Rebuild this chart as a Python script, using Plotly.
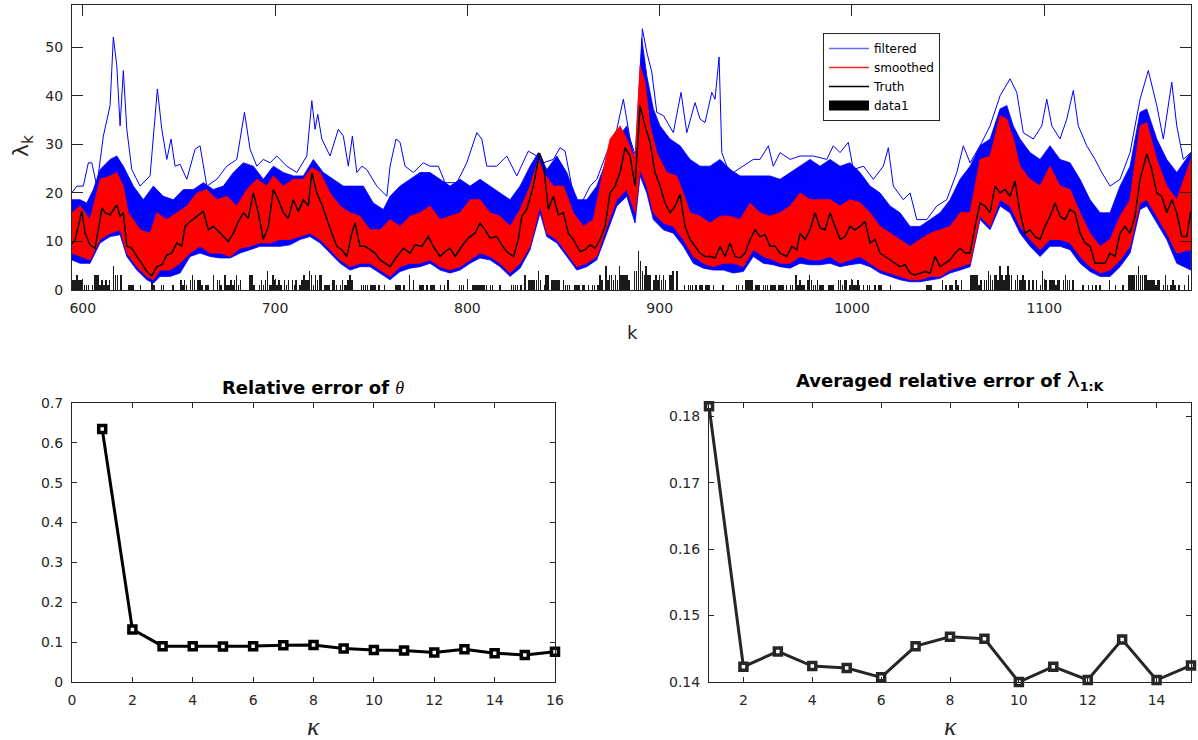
import plotly.graph_objects as go

# ---------------- data ----------------
# Truth intensity lambda_k : (k, value)
truth = [(594.3, 9.5), (596.0, 10.3), (599.5, 16.2), (601.2, 11.7), (603.8, 9.3), (606.4, 8.6), (609.0, 14.5),
         (609.9, 16.9), (611.6, 15.9), (614.2, 15.5), (617.7, 17.5), (619.4, 15.2), (621.1, 15.9), (622.9, 9.0),
         (625.5, 8.6), (628.1, 6.9), (630.7, 5.5), (633.3, 3.8), (635.9, 2.9), (638.5, 4.8), (641.1, 5.2),
         (643.7, 7.2), (646.3, 7.6), (648.9, 9.7), (651.5, 9.0), (653.2, 13.1), (655.8, 14.1), (659.3, 15.2),
         (662.7, 16.2), (665.3, 12.4), (667.9, 13.1), (670.5, 12.1), (673.1, 11.0), (675.7, 10.0), (678.3, 11.7),
         (680.9, 14.1), (683.5, 15.9), (686.1, 14.8), (688.7, 20.0), (691.3, 15.9), (693.9, 10.4), (696.5, 13.1),
         (699.1, 20.7), (701.7, 18.6), (704.3, 15.9), (706.9, 14.8), (709.5, 18.6), (712.1, 16.2), (714.7, 18.6),
         (717.3, 17.3), (719.1, 24.2), (721.7, 20.0), (724.3, 17.6), (726.9, 14.5), (729.5, 11.7), (732.1, 9.0),
         (734.7, 8.3), (737.3, 6.9), (739.9, 11.7), (741.6, 13.8), (744.2, 9.0), (746.8, 9.0), (749.4, 8.3),
         (752.0, 7.6), (754.6, 6.2), (757.2, 5.5),
         (759.8, 4.8), (763.3, 6.9), (766.7, 8.6), (770.2, 7.6), (772.8, 9.3), (776.3, 9.0), (779.7, 11.0),
         (782.3, 9.0), (785.8, 6.9), (788.4, 7.9), (791.0, 8.6), (793.6, 6.9), (797.1, 9.0), (800.5, 10.7),
         (804.0, 11.7), (806.6, 13.8), (809.2, 12.4), (811.8, 10.7), (815.3, 11.0), (817.9, 9.3), (820.5, 7.9),
         (824.0, 6.9), (826.5, 10.4), (828.3, 15.2), (830.9, 16.6), (834.3, 21.4), (837.5, 28.2), (839.5, 26.2),
         (842.1, 16.6), (844.7, 19.3), (847.3, 15.5), (849.9, 15.9), (852.5, 11.7), (855.1, 10.4), (858.6, 7.9),
         (861.2, 8.3), (863.8, 9.3), (866.4, 8.6), (869.0, 10.4), (871.6, 13.1), (874.2, 20.0), (876.8, 21.4),
         (879.4, 24.2), (882.0, 29.3), (884.6, 27.6), (887.2, 21.4), (889.8, 38.0), (892.4, 33.8), (895.0, 30.4),
         (897.6, 24.2), (900.2, 21.4), (902.8, 17.9), (905.4, 15.9), (908.0, 17.3), (910.6, 19.7), (913.2, 13.1),
         (915.8, 10.4), (918.4, 9.0), (921.0, 7.6), (923.6, 6.9), (926.2, 6.9), (928.8, 6.6), (931.4, 9.0),
         (934.0, 6.9), (936.6, 9.7), (939.2, 6.9), (941.8, 6.6), (944.4, 7.6), (947.0, 10.4), (949.6, 12.4),
         (952.2, 11.0), (954.8, 11.4), (957.4, 9.0), (960.0, 9.0),
         (962.6, 7.6), (966.1, 6.9), (968.7, 9.0), (971.3, 8.3), (973.0, 11.7), (975.6, 10.4), (978.2, 12.4),
         (980.8, 15.9), (983.4, 12.8), (986.0, 12.4), (988.6, 15.9), (991.2, 13.1), (993.8, 10.4), (996.4, 11.0),
         (999.0, 13.1), (1001.6, 12.4), (1004.2, 13.1), (1006.8, 14.1), (1009.4, 9.7), (1012.0, 10.4),
         (1014.6, 7.6), (1017.2, 6.9), (1019.8, 6.2), (1022.4, 5.5), (1025.0, 4.8), (1027.6, 5.2), (1030.2, 3.5),
         (1032.8, 3.1), (1035.4, 3.5), (1038.0, 3.8), (1040.6, 3.5), (1043.2, 6.9), (1045.8, 4.8), (1048.4, 5.5),
         (1051.0, 6.2), (1053.6, 7.6), (1056.2, 8.6), (1058.8, 7.6), (1061.4, 7.6), (1064.0, 13.1), (1066.6, 17.9),
         (1069.2, 17.3), (1071.8, 15.9), (1074.4, 21.4), (1077.0, 20.0), (1079.6, 20.7), (1082.2, 19.3),
         (1084.8, 22.4), (1087.4, 15.9), (1090.0, 11.7), (1092.6, 12.4), (1095.2, 11.0), (1097.8, 10.4),
         (1100.4, 13.1), (1103.0, 15.2), (1105.6, 17.9), (1108.2, 15.2), (1110.8, 14.5), (1113.4, 16.6),
         (1116.0, 15.9), (1118.6, 11.7), (1121.2, 9.7), (1123.8, 9.0), (1126.4, 5.5), (1129.0, 5.5), (1131.6, 5.5),
         (1134.2, 7.6), (1136.8, 6.9), (1139.4, 11.7), (1142.0, 13.1), (1144.6, 11.7), (1147.2, 15.2),
         (1149.8, 22.8), (1153.3, 28.0), (1155.9, 24.8), (1158.5, 20.0), (1161.1, 19.3), (1163.7, 15.9),
         (1166.3, 18.6), (1168.9, 15.9), (1171.5, 11.0), (1174.1, 11.0), (1176.2, 16.2)]

# Smoothed ensemble (red): upper and lower envelope
smoothed_upper = [(594.3, 15.9), (598.6, 17.3), (603.8, 14.5), (609.0, 22.8), (614.2, 23.5), (617.7, 24.2),
                  (621.1, 21.4), (623.7, 15.9), (629.8, 12.4), (635.0, 11.7), (638.5, 15.9), (643.7, 14.5),
                  (648.9, 15.9), (654.1, 17.3), (659.3, 20.0), (664.5, 20.7), (669.7, 18.6), (674.9, 19.3),
                  (680.1, 17.3), (685.3, 20.7), (690.5, 22.8), (695.7, 21.4), (699.1, 23.5), (704.3, 21.4),
                  (709.5, 22.8), (714.7, 22.8), (719.1, 25.2), (723.4, 24.2), (728.6, 20.0), (733.8, 17.3),
                  (739.0, 15.9), (744.2, 15.2), (749.4, 12.4), (754.6, 12.4),
                  (759.8, 14.5), (765.0, 13.1), (770.2, 15.2), (775.4, 15.9), (780.6, 17.3), (785.8, 14.5),
                  (791.0, 15.2), (796.2, 15.9), (801.4, 18.6), (806.6, 18.6), (811.8, 15.9), (817.0, 15.2),
                  (822.2, 13.1), (827.4, 16.6), (832.6, 21.4), (836.9, 26.9), (839.5, 24.2), (844.7, 21.4),
                  (849.9, 21.4), (855.1, 15.9), (860.3, 13.1), (865.5, 14.5), (870.7, 24.8), (874.2, 31.1),
                  (879.4, 33.8), (882.9, 31.1), (887.2, 26.9), (889.8, 46.2), (892.4, 42.8), (895.0, 33.8),
                  (898.5, 28.3), (903.7, 24.2), (908.9, 23.5), (912.3, 20.0), (915.8, 15.9), (921.0, 15.2),
                  (926.2, 13.8), (931.4, 15.2), (936.6, 15.2), (941.8, 14.5), (947.0, 17.9), (952.2, 15.9),
                  (957.4, 15.2),
                  (962.6, 15.9), (967.8, 17.3), (973.0, 20.0), (978.2, 18.6), (983.4, 18.6), (988.6, 18.6),
                  (993.8, 17.3), (999.0, 18.6), (1004.2, 18.0), (1009.4, 15.9), (1014.6, 13.1), (1019.8, 11.7),
                  (1025.0, 10.4), (1030.2, 9.0), (1035.4, 10.4), (1040.6, 11.7), (1045.8, 12.4), (1051.0, 13.1),
                  (1056.2, 15.9), (1061.4, 16.0), (1066.6, 26.9), (1071.8, 27.6), (1077.0, 35.9), (1080.5, 35.2),
                  (1083.9, 31.1), (1087.4, 25.5), (1092.6, 22.8), (1097.8, 21.4), (1103.0, 25.5), (1108.2, 21.4),
                  (1113.4, 20.7), (1118.6, 15.9), (1123.8, 11.7), (1129.0, 9.0), (1134.2, 10.4), (1139.4, 15.2),
                  (1144.6, 18.6), (1149.8, 33.8), (1153.3, 34.5), (1158.5, 26.9), (1163.7, 21.4), (1168.9, 18.6),
                  (1176.2, 26.9)]
smoothed_lower = [(594.3, 7.6), (598.6, 6.9), (603.8, 6.2), (609.0, 10.4), (614.2, 11.7), (619.4, 12.4),
                  (622.9, 7.6), (628.1, 4.8), (633.3, 2.8), (636.7, 2.1), (640.2, 4.1), (645.4, 4.1), (650.6, 5.5),
                  (655.8, 7.6), (661.0, 9.0), (666.2, 7.6), (671.4, 7.6), (676.6, 6.9), (681.8, 8.6), (687.0, 9.0),
                  (692.2, 9.7), (697.4, 9.7), (702.6, 10.4), (707.8, 10.4), (713.0, 11.0), (718.2, 11.7),
                  (723.4, 10.4), (728.6, 8.3), (733.8, 6.2), (739.0, 4.8), (744.2, 5.5), (749.4, 5.5), (754.6, 4.1),
                  (759.8, 2.8), (765.0, 4.8), (770.2, 5.5), (775.4, 5.5), (780.6, 6.2), (785.8, 4.8), (791.0, 4.1),
                  (796.2, 4.8), (801.4, 6.2), (806.6, 7.6), (811.8, 6.9), (817.0, 5.5), (822.2, 3.5), (827.4, 5.5),
                  (832.6, 9.0), (837.8, 17.3), (841.3, 11.7), (846.5, 10.4), (851.7, 7.6), (856.9, 4.8),
                  (862.1, 5.5), (867.3, 6.9), (872.5, 13.1), (877.7, 18.6), (882.9, 20.7), (887.2, 15.9),
                  (889.8, 24.8), (893.3, 21.4), (896.7, 15.9), (901.9, 13.8), (907.1, 13.1), (912.3, 10.4),
                  (917.5, 6.9), (922.7, 5.5), (927.9, 4.8), (933.1, 5.5), (938.3, 5.5), (943.5, 4.8), (948.7, 8.3),
                  (953.9, 6.9), (959.1, 6.2),
                  (962.6, 5.5), (967.8, 5.5), (973.0, 6.9), (978.2, 6.2), (983.4, 6.2), (988.6, 6.9), (993.8, 5.5),
                  (999.0, 6.2), (1004.2, 6.9), (1009.4, 5.5), (1014.6, 4.1), (1019.8, 3.5), (1025.0, 2.8),
                  (1030.2, 2.1), (1035.4, 2.1), (1040.6, 2.8), (1045.8, 2.8), (1051.0, 4.1), (1056.2, 4.8),
                  (1061.4, 5.5), (1066.6, 15.2), (1071.8, 13.1), (1077.0, 18.6), (1082.2, 17.3), (1087.4, 13.1),
                  (1092.6, 10.4), (1097.8, 8.3), (1103.0, 10.4), (1108.2, 10.4), (1113.4, 9.7), (1118.6, 6.9),
                  (1123.8, 4.8), (1129.0, 3.5), (1134.2, 4.1), (1139.4, 6.2), (1144.6, 9.0), (1149.8, 17.9),
                  (1153.3, 18.6), (1158.5, 15.2), (1163.7, 11.7), (1168.9, 7.6), (1176.2, 8.3)]

# Filtered ensemble (blue): dense upper edge, lower edge and the highest excursions
filtered_upper = [(594.3, 18.6), (598.6, 18.6), (602.1, 17.9), (605.5, 20.7), (609.0, 24.8), (614.2, 26.9),
                  (617.7, 27.6), (621.1, 25.5), (626.3, 21.4), (631.5, 18.6), (636.7, 21.4), (641.9, 19.3),
                  (647.1, 18.6), (652.3, 20.7), (657.5, 20.7), (662.7, 22.1), (667.9, 20.7), (673.1, 21.4),
                  (678.3, 24.2), (683.5, 26.2), (688.7, 25.5), (693.9, 22.8), (699.1, 25.5), (704.3, 24.2),
                  (709.5, 23.5), (714.7, 23.5), (719.9, 26.9), (725.1, 24.2), (730.3, 22.8), (735.5, 21.4),
                  (740.7, 21.4), (745.9, 21.4), (751.1, 17.9), (756.3, 16.6),
                  (759.8, 19.3), (765.0, 21.4), (770.2, 22.8), (775.4, 24.2), (780.6, 24.2), (785.8, 22.8),
                  (791.0, 21.4), (796.2, 22.8), (801.4, 21.4), (806.6, 22.8), (811.8, 21.4), (817.0, 20.0),
                  (822.2, 18.6), (827.4, 21.4), (832.6, 25.5), (836.9, 28.3), (841.3, 24.8), (846.5, 27.6),
                  (851.7, 24.2), (856.9, 18.6), (862.1, 18.6), (867.3, 21.4), (872.5, 26.9), (877.7, 31.1),
                  (882.9, 33.8), (887.2, 26.9), (890.7, 51.8), (893.3, 44.2), (896.7, 37.3), (900.2, 33.8),
                  (905.4, 31.1), (910.6, 29.7), (915.8, 26.9), (921.0, 25.5), (926.2, 25.5), (931.4, 26.9),
                  (936.6, 24.8), (941.8, 23.5), (947.0, 23.5), (952.2, 23.5), (957.4, 23.5),
                  (962.6, 22.8), (967.8, 24.2), (973.0, 25.5), (978.2, 26.9), (983.4, 25.5), (988.6, 26.9),
                  (993.8, 25.5), (999.0, 26.2), (1004.2, 24.2), (1009.4, 21.4), (1014.6, 20.0), (1019.8, 17.3),
                  (1025.0, 15.9), (1030.2, 13.1), (1035.4, 13.1), (1040.6, 14.5), (1045.8, 15.9), (1051.0, 18.6),
                  (1056.2, 22.8), (1061.4, 25.5), (1066.6, 29.7), (1071.8, 31.1), (1077.0, 37.3), (1080.5, 38.0),
                  (1083.9, 33.8), (1087.4, 31.1), (1092.6, 28.3), (1097.8, 26.9), (1103.0, 29.7), (1108.2, 26.9),
                  (1113.4, 26.2), (1118.6, 22.8), (1123.8, 18.6), (1129.0, 15.9), (1134.2, 15.9), (1139.4, 21.4),
                  (1144.6, 25.5), (1149.8, 36.6), (1153.3, 37.3), (1158.5, 31.1), (1163.7, 26.9), (1168.9, 24.2),
                  (1176.2, 28.3)]
filtered_lower = [(594.3, 6.2), (598.6, 5.5), (603.8, 5.5), (609.0, 9.7), (614.2, 11.0), (619.4, 11.4),
                  (622.9, 6.9), (628.1, 4.1), (633.3, 2.1), (636.7, 1.4), (640.2, 2.8), (645.4, 2.8), (650.6, 3.5),
                  (655.8, 6.9), (661.0, 7.6), (666.2, 6.9), (671.4, 6.6), (676.6, 6.6), (681.8, 7.6), (687.0, 8.3),
                  (692.2, 9.0), (697.4, 9.0), (702.6, 9.0), (707.8, 9.3), (713.0, 10.4), (718.2, 11.0),
                  (723.4, 9.7), (728.6, 7.6), (733.8, 5.5), (739.0, 4.1), (744.2, 4.8), (749.4, 4.8), (754.6, 3.5),
                  (759.8, 2.1), (765.0, 3.8), (770.2, 4.5), (775.4, 4.8), (780.6, 5.5), (785.8, 4.1), (791.0, 3.5),
                  (796.2, 4.1), (801.4, 5.5), (806.6, 6.6), (811.8, 6.2), (817.0, 4.8), (822.2, 2.8), (827.4, 4.5),
                  (832.6, 8.3), (837.8, 15.9), (841.3, 11.0), (846.5, 9.7), (851.7, 6.9), (856.9, 4.1),
                  (862.1, 4.8), (867.3, 6.2), (872.5, 11.7), (877.7, 17.3), (882.9, 19.3), (887.2, 13.8),
                  (889.8, 23.5), (893.3, 20.0), (896.7, 14.5), (901.9, 12.4), (907.1, 11.7), (912.3, 9.0),
                  (917.5, 5.5), (922.7, 4.5), (927.9, 4.1), (933.1, 4.1), (938.3, 3.5), (943.5, 3.8), (948.7, 6.9),
                  (953.9, 5.5), (959.1, 5.2),
                  (962.6, 4.8), (967.8, 4.5), (973.0, 5.5), (978.2, 5.2), (983.4, 5.2), (988.6, 5.5), (993.8, 4.8),
                  (999.0, 5.2), (1004.2, 5.5), (1009.4, 4.8), (1014.6, 3.5), (1019.8, 2.8), (1025.0, 2.1),
                  (1030.2, 1.7), (1035.4, 1.7), (1040.6, 2.1), (1045.8, 2.4), (1051.0, 3.5), (1056.2, 4.1),
                  (1061.4, 4.8), (1066.6, 14.5), (1071.8, 12.4), (1077.0, 17.3), (1082.2, 15.9), (1087.4, 11.7),
                  (1092.6, 9.0), (1097.8, 6.9), (1103.0, 9.0), (1108.2, 9.0), (1113.4, 8.3), (1118.6, 5.5),
                  (1123.8, 3.8), (1129.0, 2.8), (1134.2, 2.8), (1139.4, 4.8), (1144.6, 7.6), (1149.8, 16.6),
                  (1153.3, 17.3), (1158.5, 13.8), (1163.7, 10.4), (1168.9, 5.5), (1176.2, 4.1)]
filtered_max = [(594.3, 20.0), (596.9, 21.4), (600.3, 21.4), (602.9, 26.2), (604.7, 26.2), (607.3, 21.4),
                (610.7, 31.7), (614.2, 38.0), (615.9, 52.1), (617.7, 46.2), (619.4, 33.8), (621.1, 45.2),
                (622.9, 33.1), (625.5, 24.8), (629.8, 21.4), (635.0, 23.5), (638.8, 41.4), (641.1, 33.1),
                (643.7, 26.9), (645.9, 31.1), (648.0, 25.5), (650.6, 25.9), (654.1, 22.8), (658.4, 29.0),
                (661.0, 29.7), (664.5, 21.4), (669.7, 22.8), (674.9, 25.5), (680.1, 26.9), (684.1, 36.6),
                (687.0, 29.0), (690.5, 25.5), (693.9, 26.9), (697.4, 26.2), (700.9, 27.6), (706.1, 25.5),
                (711.3, 24.2), (716.5, 27.6), (719.1, 39.0), (720.8, 33.1), (722.2, 36.2), (724.3, 31.1),
                (728.6, 27.6), (732.9, 33.1), (735.5, 31.7), (738.1, 25.5), (740.2, 31.7), (742.5, 24.2),
                (745.1, 25.5), (747.7, 24.8), (752.9, 21.4), (758.1, 19.3),
                (759.8, 25.5), (762.9, 31.1), (765.0, 30.4), (767.6, 25.5), (771.9, 24.2), (777.1, 26.2),
                (780.6, 25.5), (784.9, 25.5), (788.4, 22.1), (794.5, 22.1), (799.7, 26.2), (804.9, 32.4),
                (807.5, 31.1), (810.1, 25.5), (815.3, 25.5), (820.5, 27.6), (825.7, 23.5), (831.7, 28.6),
                (836.1, 27.6), (839.5, 26.2), (844.7, 26.9), (848.2, 29.3), (850.8, 28.6), (854.3, 21.4),
                (858.6, 17.3), (863.8, 21.4), (867.3, 22.8), (872.5, 28.3), (877.7, 33.1), (881.1, 39.3),
                (884.6, 31.1), (888.1, 26.9), (891.0, 53.8), (893.3, 49.0), (895.9, 44.9), (898.5, 36.6),
                (902.0, 35.9), (907.1, 32.4), (911.1, 40.7), (914.1, 32.4), (918.4, 38.6), (921.0, 35.2),
                (923.6, 34.5), (927.1, 40.7), (928.8, 39.3), (930.9, 48.0), (932.3, 28.3), (934.9, 25.5),
                (938.3, 24.2), (943.5, 25.5), (948.7, 26.9), (952.2, 26.9), (956.5, 29.7), (959.1, 25.5),
                (962.6, 28.3), (967.8, 26.9), (973.0, 27.6), (979.9, 27.6), (986.9, 26.9), (990.3, 29.7),
                (993.8, 28.3), (998.1, 30.4), (1000.7, 24.8), (1006.0, 25.5), (1011.1, 22.8), (1016.3, 25.5),
                (1018.9, 29.3), (1021.5, 21.4), (1026.7, 18.6), (1030.2, 20.0), (1033.7, 14.5), (1038.9, 14.5),
                (1044.1, 17.3), (1049.3, 18.6), (1054.5, 24.2), (1057.9, 29.7), (1061.4, 26.2), (1066.6, 29.7),
                (1071.8, 33.8), (1077.0, 40.0), (1082.2, 43.5), (1085.7, 40.7), (1089.1, 32.4), (1094.3, 31.1),
                (1098.7, 33.8), (1101.3, 39.3), (1103.9, 33.8), (1108.2, 31.1), (1111.7, 35.2), (1115.1, 41.1),
                (1117.7, 33.8), (1122.1, 29.7), (1126.4, 26.9), (1129.9, 24.2), (1134.2, 21.4), (1139.4, 22.8),
                (1144.6, 28.3), (1149.8, 39.3), (1154.1, 45.2), (1158.5, 38.0), (1161.9, 31.1), (1166.3, 42.8),
                (1168.9, 33.8), (1172.3, 26.9), (1176.2, 28.3)]

# Observed counts (data1), one per k starting at k = 595
data1_start = 595
data1_digits = ("22322"
                "0111013331" "2121205330" "3000111000" "1000002100" "0110000100" "0212102320"
                "2210110030" "2210311212" "3120000331" "0012124113" "2121021202" "1201232243"
                "1323301110" "2210121123" "2000011110" "1110100100" "0001110100" "3020011101"
                "0111001010" "2000001110" "2001111111" "1011000100" "0001111010" "3022222420"
                "1330222220" "2111001110" "1101011013" "2052332325" "3333200448" "6435330232"
                "3232033404" "0001011101" "0110111010" "0001000000" "1101022220" "1110111011"
                "1011101011" "0312110232" "1121110011" "1002212201" "2112101011" "0010110000"
                "1000000000" "0000000001" "1100000201" "0110210200" "0033331202" "2432332532"
                "3533023223" "2020202014" "2202221220" "2322020000" "1001010101" "0000200100"
                "0100333335" "3333222212" "2013101210" "1001030")
data1_counts = [int(c) for c in data1_digits]
data1_k = [data1_start + i for i in range(len(data1_counts))]

# Bottom panels
kappa_theta = list(range(1, 17))
rel_err_theta = [0.635, 0.132, 0.090, 0.090, 0.089, 0.090, 0.092, 0.093,
                 0.084, 0.080, 0.079, 0.074, 0.082, 0.072, 0.068, 0.076]
kappa_lambda = list(range(1, 16))
rel_err_lambda = [0.1815, 0.1423, 0.1446, 0.1424, 0.1421, 0.1407, 0.1454, 0.1468,
                  0.1465, 0.1400, 0.1423, 0.1403, 0.1464, 0.1403, 0.1425]

top_xticks = [600, 700, 800, 900, 1000, 1100]
top_yticks = [0, 10, 20, 30, 40, 50]

# ---------------- figure ----------------
W, H = 1198, 740
FONT = "DejaVu Sans"
AX = "#262626"


def xs(pairs):
    return [p[0] for p in pairs]


def ys(pairs):
    return [p[1] for p in pairs]


def band(upper, lower):
    return xs(upper) + xs(lower)[::-1], ys(upper) + ys(lower)[::-1]


fig = go.Figure()

bx, by = band(filtered_upper, filtered_lower)
fig.add_trace(go.Scatter(x=bx, y=by, fill="toself", fillcolor="#0000ff", mode="lines",
                         line=dict(color="#0000ff", width=0.8), showlegend=False, hoverinfo="skip",
                         xaxis="x", yaxis="y"))
fig.add_trace(go.Scatter(x=xs(filtered_max), y=ys(filtered_max), mode="lines",
                         line=dict(color="#0000ff", width=1), showlegend=False, hoverinfo="skip",
                         xaxis="x", yaxis="y"))
rx, ry = band(smoothed_upper, smoothed_lower)
fig.add_trace(go.Scatter(x=rx, y=ry, fill="toself", fillcolor="#ff0000", mode="lines",
                         line=dict(color="#ff0000", width=0.8), showlegend=False, hoverinfo="skip",
                         xaxis="x", yaxis="y"))
fig.add_trace(go.Scatter(x=xs(truth), y=ys(truth), mode="lines",
                         line=dict(color="black", width=1.5), showlegend=False,
                         xaxis="x", yaxis="y"))
fig.add_trace(go.Bar(x=data1_k, y=data1_counts, width=0.8, marker=dict(color="#1a1a1a", line=dict(width=0)),
                     showlegend=False, xaxis="x", yaxis="y"))

# legend entries
fig.add_trace(go.Scatter(x=[None], y=[None], mode="lines", line=dict(color="#6a6aff", width=1.6),
                         name="filtered", xaxis="x", yaxis="y"))
fig.add_trace(go.Scatter(x=[None], y=[None], mode="lines", line=dict(color="#ff2020", width=1.4),
                         name="smoothed", xaxis="x", yaxis="y"))
fig.add_trace(go.Scatter(x=[None], y=[None], mode="lines", line=dict(color="black", width=1.6),
                         name="Truth", xaxis="x", yaxis="y"))
fig.add_trace(go.Scatter(x=[None], y=[None], mode="lines", line=dict(color="black", width=14),
                         name="data1", xaxis="x", yaxis="y"))

# bottom-left
fig.add_trace(go.Scatter(x=kappa_theta, y=rel_err_theta, mode="lines+markers",
                         line=dict(color="black", width=3),
                         marker=dict(symbol="square", size=7, color="white", line=dict(color="black", width=3.5)),
                         cliponaxis=False, showlegend=False, xaxis="x2", yaxis="y2"))
# bottom-right
fig.add_trace(go.Scatter(x=kappa_lambda, y=rel_err_lambda, mode="lines+markers",
                         line=dict(color="#262626", width=3),
                         marker=dict(symbol="square", size=7, color="white", line=dict(color="#262626", width=3.5)),
                         cliponaxis=False, showlegend=False, xaxis="x3", yaxis="y3"))

tickfont = dict(family=FONT, size=14, color=AX)
common = dict(showline=True, linecolor=AX, linewidth=1, mirror="ticks", ticks="inside",
              tickcolor=AX, tickwidth=1, showgrid=False, zeroline=False, tickfont=tickfont,
              ticklabelstandoff=5, automargin=False)


def px_x(p):
    return p / W


def px_y(p):
    return 1 - p / H


fig.update_layout(
    width=W, height=H, margin=dict(l=0, r=0, t=0, b=0, pad=0, autoexpand=False),
    paper_bgcolor="white", plot_bgcolor="white",
    barmode="overlay", bargap=0,
    xaxis=dict(domain=[px_x(72), px_x(1191)], anchor="y", range=[594.4, 1176.3],
               tickvals=top_xticks, ticklen=11, **common),
    yaxis=dict(domain=[px_y(290), px_y(5)], anchor="x", range=[0, 58.7],
               tickvals=top_yticks, ticklen=11, **common),
    xaxis2=dict(domain=[px_x(72), px_x(555)], anchor="y2", range=[0, 16],
                tickvals=list(range(0, 17, 2)), ticklen=5, **common),
    yaxis2=dict(domain=[px_y(682), px_y(403)], anchor="x2", range=[0, 0.7],
                tickvals=[0, 0.1, 0.2, 0.3, 0.4, 0.5, 0.6, 0.7],
                ticktext=["0", "0.1", "0.2", "0.3", "0.4", "0.5", "0.6", "0.7"], ticklen=5, **common),
    xaxis3=dict(domain=[px_x(709), px_x(1191)], anchor="y3", range=[1, 15],
                tickvals=list(range(2, 15, 2)), ticklen=5, **common),
    yaxis3=dict(domain=[px_y(682), px_y(403)], anchor="x3", range=[0.14, 0.182],
                tickvals=[0.14, 0.15, 0.16, 0.17, 0.18],
                ticktext=["0.14", "0.15", "0.16", "0.17", "0.18"], ticklen=5, **common),
    legend=dict(x=px_x(823), y=px_y(33), xanchor="left", yanchor="top",
                bordercolor=AX, borderwidth=1, bgcolor="white",
                font=dict(family=FONT, size=12, color="black"), itemwidth=40,
                traceorder="normal"),
    showlegend=True,
    hovermode=False,
)

ann = [
    dict(text="λ<sub>k</sub>", x=px_x(22), y=px_y(146), textangle=-90,
         font=dict(family=FONT, size=22, color=AX)),
    dict(text="k", x=px_x(632), y=px_y(333), font=dict(family=FONT, size=18, color=AX)),
    dict(text="<b>Relative error of </b><span style='font-family:Liberation Serif'><i>θ</i></span>",
         x=px_x(313), y=px_y(387), font=dict(family=FONT, size=18, color="black")),
    dict(text="<b>Averaged relative error of </b><span style='font-size:22px'>λ</span><sub><b>1:K</b></sub>",
         x=px_x(950), y=px_y(380), font=dict(family=FONT, size=18, color="black")),
    dict(text="<i>κ</i>", x=px_x(313), y=px_y(726), font=dict(family="Liberation Serif", size=26, color=AX)),
    dict(text="<i>κ</i>", x=px_x(950), y=px_y(726), font=dict(family="Liberation Serif", size=26, color=AX)),
]
for a in ann:
    a.update(xref="paper", yref="paper", showarrow=False, xanchor="center", yanchor="middle")
fig.update_layout(annotations=ann)

fig.write_html("out.html", config={"displayModeBar": False, "staticPlot": True},
               post_script="document.body.style.margin='0px';document.body.style.padding='0px';"
                           "document.body.style.overflow='hidden';")
